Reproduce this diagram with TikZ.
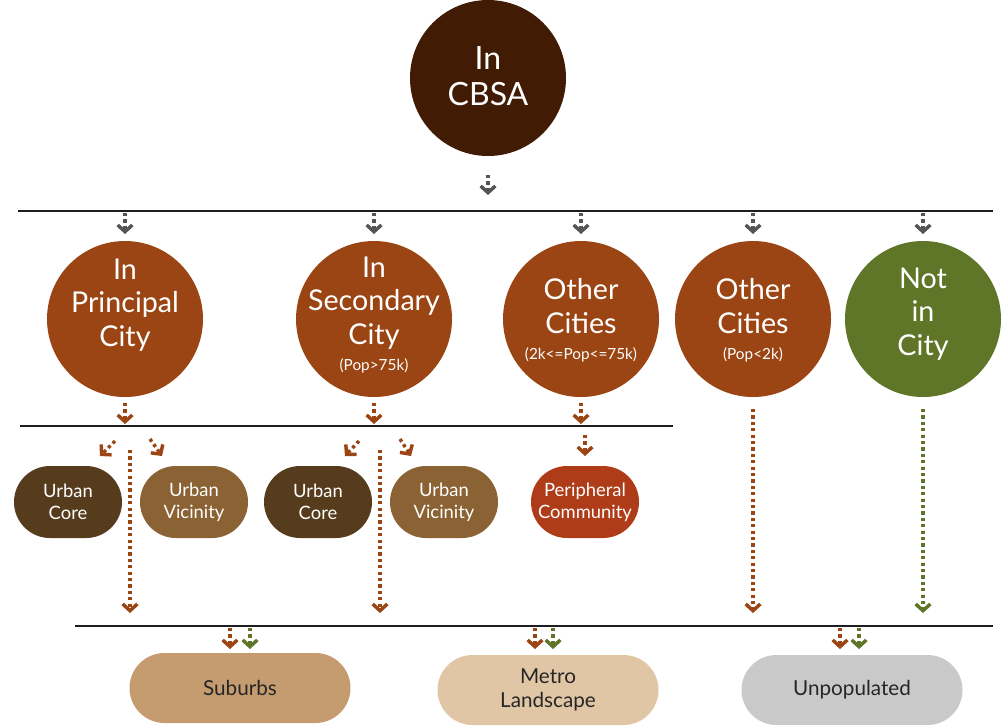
\documentclass[tikz,border=0pt]{standalone}
\usepackage{fontspec}
\setmainfont{Lato}
\usetikzlibrary{arrows.meta}
\definecolor{cbsa}{HTML}{421B04}
\definecolor{rust}{HTML}{9A4513}
\definecolor{olive}{HTML}{5F7629}
\definecolor{coreb}{HTML}{573B1D}
\definecolor{vicin}{HTML}{8A6234}
\definecolor{periph}{HTML}{AE3C18}
\definecolor{subur}{HTML}{C49C6F}
\definecolor{metro}{HTML}{E1C6A6}
\definecolor{unpop}{HTML}{C9C9C9}
\definecolor{arrgray}{HTML}{555555}
\definecolor{rule}{HTML}{1E1E1E}
\begin{document}
\begin{tikzpicture}[x=0.75pt,y=-0.75pt,
  bubble/.style={circle, minimum size=117pt, inner sep=0pt},
  ctext/.style={text=white, align=center, font=\fontsize{21.5}{25}\selectfont},
  small/.style={text=white, font=\fontsize{11.5}{13}\selectfont},
  pill/.style={rectangle, rounded corners=27pt, minimum width=81pt, minimum height=54pt,
    inner sep=0pt, text=white, align=center, font=\fontsize{13.8}{16.5}\selectfont},
  base/.style={rectangle, rounded corners=26.25pt, minimum width=165.75pt, minimum height=52.5pt,
    inner sep=0pt, text=black!85, align=center, font=\fontsize{15.5}{18}\selectfont},
  flow/.style={line width=2.6pt, dash pattern=on 2.4pt off 2.4pt,
    -{Straight Barb[length=5pt,width=11pt]}},
  divider/.style={draw=rule, line width=1.5pt}]
\useasboundingbox (0,0) rectangle (1005,726);

% top level
\node[bubble, fill=cbsa] (cbsa) at (488,78) {};
\node[ctext, font=\fontsize{24}{27}\selectfont] at (488,76) {In\\CBSA};
\coordinate (cbsaout) at (488,175);
\coordinate (cbsain) at (488,195);
\draw[flow, arrgray] (cbsaout) -- (cbsain);

% first divider
\coordinate (d1l) at (18,211);
\coordinate (d1r) at (993,211);
\draw[divider] (d1l) -- (d1r);

% city classes
\node[bubble, fill=rust] (pc) at (125,319) {};
\node[ctext] at (125,305) {In\\Principal\\City};
\node[bubble, fill=rust] (sc) at (374,319) {};
\node[ctext] at (374,303) {In\\Secondary\\City};
\node[small] at (374,366) {(Pop>75k)};
\node[bubble, fill=rust] (oc) at (581,319) {};
\node[ctext] at (581,306) {Other\\Cities};
\node[small] at (581,355) {(2k<=Pop<=75k)};
\node[bubble, fill=rust] (sm) at (753,319) {};
\node[ctext] at (753,306) {Other\\Cities};
\node[small] at (753,355) {(Pop<2k)};
\node[bubble, fill=olive] (nc) at (923,319) {};
\node[ctext] at (923,314) {Not\\in\\City};

\foreach \n in {pc,sc,oc,sm,nc}
  \draw[flow, arrgray] (\n.north |- 0,213) -- (\n.north |- 0,234);

\foreach \n in {pc,sc,oc}
  \draw[flow, rust] (\n.south |- 0,403) -- (\n.south |- 0,424);

% second divider
\coordinate (d2l) at (20,426);
\coordinate (d2r) at (673,426);
\draw[divider] (d2l) -- (d2r);

% sub-city classes
\node[pill, fill=coreb] (uc1) at (68,502) {Urban\\Core};
\node[pill, fill=vicin] (uv1) at (194,502) {Urban\\Vicinity};
\node[pill, fill=coreb] (uc2) at (318,502) {Urban\\Core};
\node[pill, fill=vicin] (uv2) at (444,502) {Urban\\Vicinity};
\node[pill, fill=periph] (pcm) at (585,502) {Peripheral\\Community};

\draw[flow, rust] (115,441) -- (100,456);
\draw[flow, rust] (150,439) -- (162,456);
\draw[flow, rust] (359,441) -- (345,456);
\draw[flow, rust] (400,439) -- (411,456);
\draw[flow, rust] (pcm.north |- 0,435) -- (pcm.north |- 0,456);

% long passes to the landscape level
\draw[flow, rust] (130,450) -- (130,613);
\draw[flow, rust] (380,450) -- (380,613);
\draw[flow, rust] (sm.south |- 0,409) -- (sm.south |- 0,613);
\draw[flow, olive] (nc.south |- 0,409) -- (nc.south |- 0,613);

% third divider
\coordinate (d3l) at (75,626);
\coordinate (d3r) at (993,626);
\draw[divider] (d3l) -- (d3r);

% landscape classes
\node[base, fill=subur] (sub) at (240,688) {Suburbs};
\node[base, fill=metro] (met) at (548,690) {Metro\\Landscape};
\node[base, fill=unpop] (unp) at (852,690) {Unpopulated};

\foreach \xr/\xg in {230/250, 535/553, 840/859}{
  \draw[flow, rust] (\xr,628) -- (\xr,649);
  \draw[flow, olive] (\xg,628) -- (\xg,649);
}
\end{tikzpicture}
\end{document}
